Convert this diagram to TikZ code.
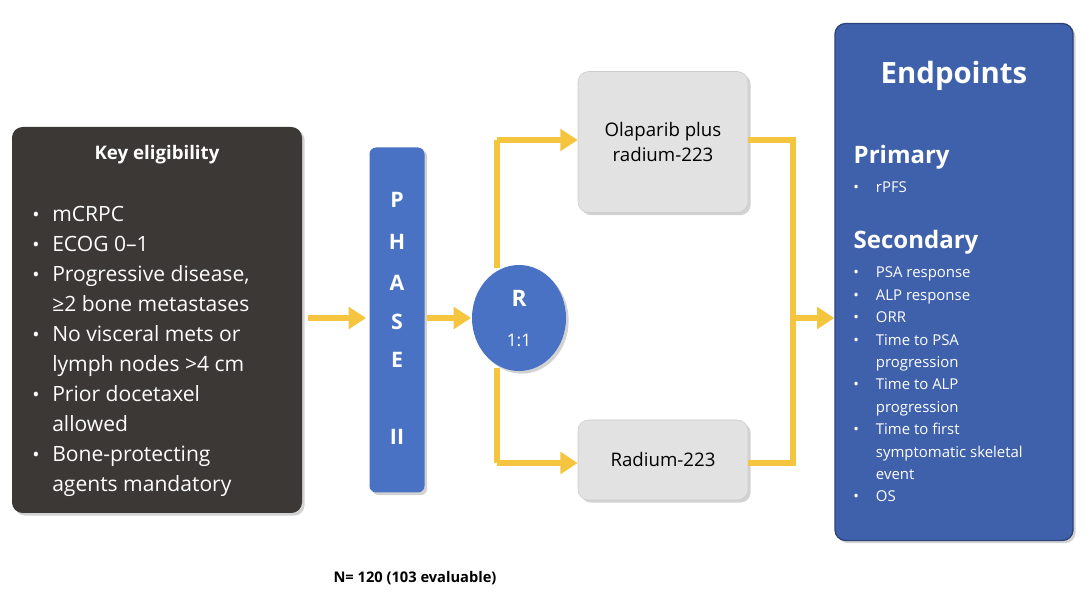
\documentclass[tikz,border=0pt]{standalone}
\usepackage{fontspec}
\setmainfont{Open Sans}
\usetikzlibrary{arrows.meta,shadows,shapes.geometric}
\definecolor{dark}{HTML}{3B3835}
\definecolor{pblue}{HTML}{4A72C4}
\definecolor{eblue}{HTML}{3F60AA}
\definecolor{yel}{HTML}{F5C540}
\definecolor{lg}{HTML}{E2E2E2}
\newcommand{\bul}{{\Large•}}
\begin{document}
\begin{tikzpicture}[x=0.75pt,y=-0.75pt,
  sh/.style={drop shadow={shadow xshift=2pt,shadow yshift=-2pt,opacity=.35}},
  box/.style={rounded corners=8pt,sh},
  yl/.style={yel,line width=4.5pt},
  ya/.style={yel,line width=4.5pt,-{Triangle[length=13pt,width=16pt]}},
  wt/.style={text=white,font=\bfseries}]
\useasboundingbox (0,0) rectangle (1090,598);
\fill[white] (0,0) rectangle (1090,598);
\node[box,fill=dark,minimum width=290*0.75pt,minimum height=386*0.75pt] (elig) at (157,320) {};
\node[wt,font=\bfseries\fontsize{14}{16}\selectfont] (et) at (157,155) {Key eligibility};
\node[text=white,anchor=north west,align=left,font=\fontsize{15.8}{22.5}\selectfont,inner sep=0pt] (el) at (32,200) {%
\begin{tabular}{@{}p{15pt}@{}l@{}}
\bul & mCRPC\\ \bul & ECOG 0–1\\ \bul & Progressive disease,\\ & ≥2 bone metastases\\
\bul & No visceral mets or\\ & lymph nodes >4 cm\\ \bul & Prior docetaxel\\ & allowed\\
\bul & Bone-protecting\\ & agents mandatory
\end{tabular}};
\node[rounded corners=5pt,sh,fill=pblue,minimum width=55*0.75pt,minimum height=345*0.75pt] (ph) at (397,320) {};
\foreach \t/\y in {P/200,H/242,A/283,S/322,E/360,II/437}
  \node[wt,font=\bfseries\fontsize{16}{18}\selectfont] at (397,\y) {\t};
\node[ellipse,fill=pblue,minimum width=94*0.75pt,minimum height=106*0.75pt,sh] (r) at (519,318) {};
\node[wt,font=\bfseries\fontsize{17}{19}\selectfont] at (519,298) {R};
\node[text=white,font=\fontsize{13}{15}\selectfont] at (519,340) {1:1};
\node[box,fill=lg,draw=gray!40,minimum width=170*0.75pt,minimum height=141*0.75pt,align=center,font=\fontsize{14}{19}\selectfont] (ola) at (663,142) {Olaparib plus\\radium-223};
\node[box,fill=lg,draw=gray!40,minimum width=170*0.75pt,minimum height=80*0.75pt,font=\fontsize{14}{17}\selectfont] (rad) at (663,460) {Radium-223};
\node[box,fill=eblue,draw=eblue!70!black,line width=1pt,minimum width=238*0.75pt,minimum height=517*0.75pt] (ep) at (954,282) {};
\node[wt,font=\bfseries\fontsize{22}{25}\selectfont] at (954,76) {Endpoints};
\node[wt,anchor=west,font=\bfseries\fontsize{18}{20}\selectfont] at (849,157) {Primary};
\node[text=white,anchor=north west,inner sep=0pt,font=\fontsize{11.2}{16.8}\selectfont] at (853,177) {\begin{tabular}{@{}p{17pt}@{}l@{}}•& rPFS\end{tabular}};
\node[wt,anchor=west,font=\bfseries\fontsize{18}{20}\selectfont] at (849,242) {Secondary};
\node[text=white,anchor=north west,inner sep=0pt,font=\fontsize{11.2}{16.8}\selectfont] at (853,262) {\begin{tabular}{@{}p{17pt}@{}l@{}}
•& PSA response\\ •& ALP response\\ •& ORR\\ •& Time to PSA\\ & progression\\ •& Time to ALP\\ & progression\\
•& Time to first\\ & symptomatic skeletal\\ & event\\ •& OS\end{tabular}};
\node[font=\bfseries\fontsize{11}{13}\selectfont] (n) at (415,578) {N= 120 (103 evaluable)};
\coordinate (j1) at (497,140); \coordinate (j2) at (497,463);
\coordinate (k1) at (793,140); \coordinate (k2) at (793,463); \coordinate (k) at (793,318);
\draw[ya] (elig.east)++(6,-2) -- (366,318);
\draw[ya] (ph.east)++(2,-2) -- (471,318);
\draw[yl] (497,268) -- (j1);
\draw[ya] (j1) -- (ola.west|-j1);
\draw[yl] (497,368) -- (j2);
\draw[ya] (j2) -- (rad.west|-j2);
\draw[yl] (ola.east|-k1) -- (k1) -- (k2) -- (rad.east|-k2);
\draw[ya] (k) -- (ep.west|-k);
\end{tikzpicture}
\end{document}
